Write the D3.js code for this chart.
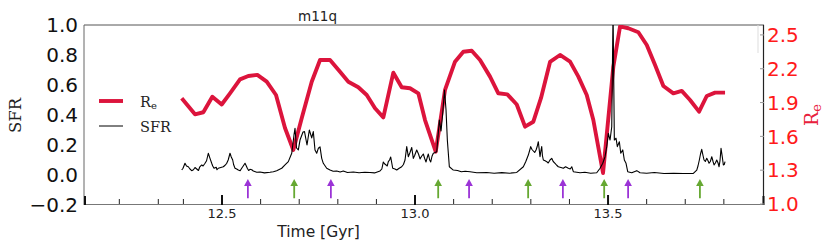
<!DOCTYPE html>
<html>
<head>
<meta charset="utf-8">
<script src="https://cdn.jsdelivr.net/npm/d3@7"></script>
<style>
  body { margin: 0; background: #fff; }
  svg { display: block; }
</style>
</head>
<body>
<svg width="830" height="250"></svg>
<script>
// half-light radius per snapshot (Gyr, kpc)
var reTime = [12.3956, 12.4300, 12.4516, 12.4749, 12.4992, 12.5207, 12.5466, 12.5681, 12.5915, 12.6158,
  12.6399, 12.6632, 12.6847, 12.7073, 12.7324, 12.7539, 12.7798, 12.8057, 12.8272, 12.8531,
  12.8749, 12.8964, 12.9179, 12.9438, 12.9655, 12.9870, 13.0086, 13.0259, 13.0536, 13.0777,
  13.1036, 13.1251, 13.1469, 13.1684, 13.1943, 13.2158, 13.2391, 13.2635, 13.2850, 13.3065,
  13.3264, 13.3497, 13.3756, 13.4016, 13.4231, 13.4448, 13.4619, 13.4870, 13.5137, 13.5311,
  13.5526, 13.5785, 13.6003, 13.6218, 13.6433, 13.6692, 13.6909, 13.7124, 13.7358, 13.7557,
  13.7772, 13.8031];
var reValue = [1.938, 1.796, 1.814, 1.952, 1.883, 1.982, 2.106, 2.136, 2.145, 2.085,
  1.967, 1.674, 1.479, 1.772, 2.085, 2.278, 2.278, 2.174, 2.085, 2.036,
  1.967, 1.849, 1.769, 2.165, 2.036, 2.027, 1.982, 1.745, 1.464, 2.012,
  2.263, 2.351, 2.360, 2.278, 2.130, 1.982, 1.973, 1.883, 1.686, 1.730,
  1.941, 2.260, 2.322, 2.263, 2.130, 1.967, 1.745, 1.275, 2.218, 2.575,
  2.559, 2.524, 2.411, 2.233, 2.047, 1.982, 2.003, 1.923, 1.819, 1.958,
  1.988, 1.988];

// star formation rate, main read-off
var sfrTime = [12.3956, 12.4041, 12.4127, 12.4215, 12.4345, 12.4474, 12.4560, 12.4645, 12.4689, 12.4733,
  12.4793, 12.4850, 12.4904, 12.5034, 12.5122, 12.5207, 12.5277, 12.5337, 12.5422, 12.5510,
  12.5596, 12.5655, 12.5725, 12.5811, 12.5900, 12.5984, 12.6100, 12.6244, 12.6330, 12.6417,
  12.6547, 12.6632, 12.6718, 12.6806, 12.6865, 12.6891, 12.6930, 12.6977, 12.7021, 12.7098,
  12.7137, 12.7202, 12.7262, 12.7324, 12.7365, 12.7409, 12.7453, 12.7495, 12.7539, 12.7583,
  12.7624, 12.7712, 12.7798, 12.7880, 12.7972, 12.8060, 12.8142, 12.8250, 12.8402, 12.8550,
  12.8700, 12.8834, 12.8950, 12.9093, 12.9179, 12.9249, 12.9308, 12.9370, 12.9422, 12.9526,
  12.9655, 12.9741, 12.9785, 12.9826, 12.9915, 12.9956, 13.0044, 13.0130, 13.0215, 13.0285,
  13.0345, 13.0407, 13.0474, 13.0562, 13.0630, 13.0674, 13.0718, 13.0764, 13.0803, 13.0837,
  13.0889, 13.0992, 13.1100, 13.1200, 13.1300, 13.1425, 13.1600, 13.1857, 13.2050, 13.2250,
  13.2450, 13.2635, 13.2806, 13.2935, 13.2997, 13.3065, 13.3135, 13.3194, 13.3238, 13.3282,
  13.3324, 13.3412, 13.3497, 13.3541, 13.3627, 13.3712, 13.3842, 13.3972, 13.4060, 13.4101,
  13.4275, 13.4400, 13.4550, 13.4707, 13.4793, 13.4863, 13.4922, 13.4966, 13.5008, 13.5052,
  13.5096, 13.5130, 13.5163, 13.5207, 13.5241, 13.5293, 13.5329, 13.5381, 13.5422, 13.5466,
  13.5510, 13.5614, 13.5744, 13.5829, 13.6000, 13.6200, 13.6450, 13.6700, 13.6950, 13.7210,
  13.7298, 13.7365, 13.7427, 13.7487, 13.7557, 13.7617, 13.7687, 13.7746, 13.7816, 13.7876,
  13.7927, 13.7987, 13.8031];
var sfrValue = [0.033, 0.078, 0.055, 0.029, 0.040, 0.067, 0.078, 0.145, 0.111, 0.078,
  0.045, 0.052, 0.045, 0.055, 0.078, 0.145, 0.100, 0.045, 0.033, 0.045,
  0.078, 0.045, 0.038, 0.027, 0.018, 0.020, 0.014, 0.018, 0.022, 0.029,
  0.045, 0.067, 0.089, 0.145, 0.267, 0.311, 0.180, 0.167, 0.233, 0.287,
  0.289, 0.200, 0.300, 0.247, 0.289, 0.167, 0.145, 0.178, 0.187, 0.111,
  0.078, 0.045, 0.033, 0.025, 0.027, 0.020, 0.027, 0.017, 0.020, 0.015,
  0.018, 0.017, 0.014, 0.027, 0.087, 0.067, 0.089, 0.120, 0.045, 0.033,
  0.055, 0.100, 0.189, 0.122, 0.183, 0.111, 0.167, 0.107, 0.140, 0.087,
  0.140, 0.087, 0.145, 0.155, 0.367, 0.293, 0.413, 0.567, 0.433, 0.233,
  0.055, 0.033, 0.030, 0.022, 0.025, 0.022, 0.015, 0.017, 0.012, 0.016,
  0.012, 0.017, 0.055, 0.133, 0.189, 0.160, 0.167, 0.222, 0.122, 0.189,
  0.100, 0.089, 0.100, 0.111, 0.078, 0.055, 0.045, 0.045, 0.055, 0.022,
  0.015, 0.018, 0.012, 0.015, 0.045, 0.078, 0.122, 0.189, 0.278, 0.233,
  0.322, 1.100, 0.233, 0.245, 0.189, 0.222, 0.145, 0.167, 0.100, 0.078,
  0.022, 0.015, 0.029, 0.015, 0.012, 0.017, 0.010, 0.012, 0.010, 0.011,
  0.033, 0.100, 0.171, 0.100, 0.111, 0.078, 0.122, 0.067, 0.100, 0.055,
  0.178, 0.067, 0.089];

// star formation rate, extra wiggles in the bursty stretches
var sfrTimeFine = [12.3990, 12.4080, 12.4170, 12.4260, 12.4300, 12.4390, 12.4420, 12.4510, 12.4600, 12.4760,
  12.4870, 12.5080, 12.5160, 12.5240, 12.5300, 12.5380, 12.5470, 12.5550, 12.5630, 12.5690,
  12.5770, 12.9140, 12.9210, 12.9280, 12.9340, 12.9480, 12.9590, 12.9700, 12.9870, 12.9990,
  13.0090, 13.0170, 13.0250, 13.0320, 13.0380, 13.0440, 13.0520, 13.2870, 13.2965, 13.3030,
  13.3100, 13.3165, 13.3260, 13.3300, 13.3370, 13.3450, 13.3580, 13.3670, 13.3780, 13.3900,
  13.4020, 13.7330, 13.7395, 13.7460, 13.7520, 13.7590, 13.7650, 13.7720, 13.7780, 13.7850,
  13.7900, 13.7960, 13.8010];
var sfrValueFine = [0.045, 0.060, 0.040, 0.035, 0.050, 0.030, 0.052, 0.060, 0.095, 0.060,
  0.035, 0.065, 0.100, 0.120, 0.070, 0.040, 0.028, 0.060, 0.060, 0.030,
  0.035, 0.040, 0.075, 0.060, 0.100, 0.040, 0.045, 0.070, 0.150, 0.130,
  0.140, 0.125, 0.110, 0.120, 0.100, 0.125, 0.150, 0.090, 0.160, 0.170,
  0.150, 0.190, 0.160, 0.130, 0.095, 0.080, 0.090, 0.065, 0.050, 0.055,
  0.040, 0.060, 0.140, 0.130, 0.090, 0.095, 0.090, 0.090, 0.080, 0.080,
  0.095, 0.120, 0.070];

var greenArrows = [12.687, 13.060, 13.293, 13.490, 13.738];
var purpleArrows = [12.567, 12.782, 13.140, 13.383, 13.552];

var majorTicks = [12.5, 13.0, 13.5];
var minorTicks = [12.234, 12.335, 12.4, 12.6, 12.7, 12.8, 12.9, 13.1, 13.2, 13.3, 13.4, 13.6, 13.7, 13.8];
var sfrTicks = [-0.2, 0.0, 0.2, 0.4, 0.6, 0.8, 1.0];
var reTicks = [1.0, 1.3, 1.6, 1.9, 2.2, 2.5];

var svg = d3.select("svg"),
    plotL = 84, plotR = 764, plotT = 25, plotB = 205;

var x = d3.scaleLinear().domain([12.1425, 13.904]).range([plotL, plotR]);
var ySfr = d3.scaleLinear().domain([-0.2, 1.0]).range([plotB, plotT]);
var yRe = d3.scaleLinear().domain([1.0, 2.588]).range([plotB - 1, plotT]);

svg.append("defs").append("clipPath").attr("id", "plotclip")
  .append("rect").attr("x", plotL).attr("y", plotT).attr("width", plotR - plotL).attr("height", plotB - plotT);

var sans = "'DejaVu Sans', sans-serif",
    serif = "'DejaVu Serif', serif";

// frame
svg.append("line").attr("x1", plotL).attr("x2", plotR).attr("y1", plotT).attr("y2", plotT)
  .attr("stroke", "#555").attr("stroke-width", 1);
svg.append("line").attr("x1", plotL).attr("x2", plotR).attr("y1", plotB - 0.5).attr("y2", plotB - 0.5)
  .attr("stroke", "#777").attr("stroke-width", 1.2);
svg.append("line").attr("x1", plotL).attr("x2", plotL).attr("y1", plotT).attr("y2", plotB)
  .attr("stroke", "#666").attr("stroke-width", 1);
svg.append("line").attr("x1", plotR - 0.5).attr("x2", plotR - 0.5).attr("y1", plotT).attr("y2", plotB)
  .attr("stroke", "#222").attr("stroke-width", 1.2);
svg.append("line").attr("x1", plotR - 6).attr("x2", plotR - 6).attr("y1", plotT).attr("y2", plotT + 28)
  .attr("stroke", "#ddd").attr("stroke-width", 1);

// corner marks
[plotL + 1, plotR - 0.5].forEach(function(px) {
  svg.append("line").attr("x1", px).attr("x2", px).attr("y1", plotB - 9).attr("y2", plotB)
    .attr("stroke", "#111").attr("stroke-width", 2);
});

// x ticks
svg.append("g").selectAll("line").data(minorTicks).enter().append("line")
  .attr("x1", d => x(d)).attr("x2", d => x(d))
  .attr("y1", plotB - 6).attr("y2", plotB - 1)
  .attr("stroke", "#222").attr("stroke-width", 1);
svg.append("g").selectAll("line").data(majorTicks).enter().append("line")
  .attr("x1", d => x(d)).attr("x2", d => x(d))
  .attr("y1", plotB - 10).attr("y2", plotB)
  .attr("stroke", "#111").attr("stroke-width", 2);
svg.append("g").selectAll("text").data(majorTicks).enter().append("text")
  .attr("x", d => x(d)).attr("y", 218)
  .attr("text-anchor", "middle")
  .style("font-family", sans).style("font-size", "13px").attr("fill", "#222")
  .text(d => d.toFixed(1));

// left axis labels
svg.append("g").selectAll("text").data(sfrTicks).enter().append("text")
  .attr("x", 78).attr("y", d => ySfr(d)).attr("dy", "0.36em")
  .attr("text-anchor", "end")
  .style("font-family", sans).style("font-size", "20px").attr("fill", "#111")
  .text(d => d3.format(".1f")(d).replace("-", "\u2212"));

// right axis
svg.append("g").selectAll("line").data(reTicks).enter().append("line")
  .attr("x1", plotR - 4).attr("x2", plotR).attr("y1", d => yRe(d)).attr("y2", d => yRe(d))
  .attr("stroke", "#999").attr("stroke-width", 1);
svg.append("g").selectAll("text").data(reTicks).enter().append("text")
  .attr("x", 767).attr("y", d => yRe(d)).attr("dy", "0.36em")
  .style("font-family", sans).style("font-size", "20px").attr("fill", "#ff1a1a")
  .text(d => d.toFixed(1));

// titles
svg.append("text").attr("x", 317.5).attr("y", 21).attr("text-anchor", "middle")
  .style("font-family", sans).style("font-size", "13.5px").attr("fill", "#222").text("m11q");
svg.append("text").attr("x", 318.5).attr("y", 237).attr("text-anchor", "middle")
  .style("font-family", sans).style("font-size", "15.5px").attr("fill", "#222").text("Time [Gyr]");
svg.append("text").attr("transform", "translate(21,115.5) rotate(-90)").attr("text-anchor", "middle")
  .style("font-family", serif).style("font-size", "16.5px").attr("fill", "#222").text("SFR");
var reLabel = svg.append("text").attr("transform", "translate(818,115) rotate(-90)").attr("text-anchor", "middle")
  .style("font-family", serif).style("font-size", "19px").attr("fill", "#e8203c");
reLabel.append("tspan").text("R");
reLabel.append("tspan").attr("dy", "0.25em").style("font-size", "13px").text("e");

// curves
var plot = svg.append("g").attr("clip-path", "url(#plotclip)");

var reLine = d3.line().x(d => x(d[0])).y(d => yRe(d[1]));
var sfrLine = d3.line().x(d => x(d[0])).y(d => ySfr(d[1]));

var sfrPoints = d3.sort(d3.zip(sfrTime, sfrValue).concat(d3.zip(sfrTimeFine, sfrValueFine)), d => d[0]);

plot.append("path")
  .datum(d3.zip(reTime, reValue))
  .attr("d", reLine)
  .attr("fill", "none").attr("stroke", "#dc143c").attr("stroke-width", 3.9)
  .attr("stroke-linejoin", "round").attr("stroke-linecap", "butt");

plot.append("path")
  .datum(sfrPoints)
  .attr("d", sfrLine)
  .attr("fill", "none").attr("stroke", "#000").attr("stroke-width", 1.1)
  .attr("stroke-linejoin", "round");

// event arrows
function drawArrows(times, color) {
  var g = svg.append("g").selectAll("g").data(times).enter().append("g")
    .attr("transform", d => "translate(" + x(d) + ",0)");
  g.append("line").attr("x1", 0).attr("x2", 0)
    .attr("y1", ySfr(-0.155)).attr("y2", ySfr(-0.065))
    .attr("stroke", color).attr("stroke-width", 1.8);
  g.append("path")
    .attr("d", "M0," + ySfr(-0.027) + "L-3.8," + (ySfr(-0.027) + 7) + "L3.8," + (ySfr(-0.027) + 7) + "Z")
    .attr("fill", color);
}
drawArrows(greenArrows, "#66a832");
drawArrows(purpleArrows, "#9b33d6");

// legend
var legend = svg.append("g");
legend.append("line").attr("x1", 99).attr("x2", 123).attr("y1", 101).attr("y2", 101)
  .attr("stroke", "#dc143c").attr("stroke-width", 3.9);
legend.append("line").attr("x1", 99).attr("x2", 123).attr("y1", 126).attr("y2", 126)
  .attr("stroke", "#000").attr("stroke-width", 1);
var legRe = legend.append("text").attr("x", 140).attr("y", 107)
  .style("font-family", serif).style("font-size", "14.5px").attr("fill", "#222");
legRe.append("tspan").text("R");
legRe.append("tspan").attr("dy", "0.2em").style("font-size", "10px").text("e");
legend.append("text").attr("x", 140).attr("y", 132)
  .style("font-family", serif).style("font-size", "14.5px").attr("fill", "#222").text("SFR");
</script>
</body>
</html>
